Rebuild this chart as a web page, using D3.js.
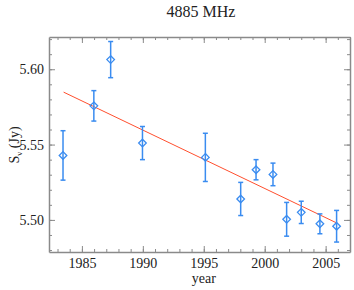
<!DOCTYPE html>
<html>
<head>
<meta charset="utf-8">
<script src="https://cdn.jsdelivr.net/npm/d3@7"></script>
<style>
  body { margin: 0; background: #fff; }
  svg text { font-family: "Liberation Serif", "DejaVu Serif", "Times New Roman", serif; fill: #222; }
</style>
</head>
<body>
<div id="stage"></div>
<script>
const years = [1983.45, 1985.98, 1987.36, 1989.97, 1995.13, 1998.03, 1999.29, 2000.68, 2001.80, 2003.00, 2004.53, 2005.90];
const flux = [5.5428, 5.5757, 5.6064, 5.5510, 5.5415, 5.5139, 5.5333, 5.5302, 5.5004, 5.5050, 5.4974, 5.4958];
const fluxErr = [0.0164, 0.0101, 0.0120, 0.0110, 0.0160, 0.0110, 0.0067, 0.0075, 0.0112, 0.0074, 0.0066, 0.0105];

// linear fit, end points
const fitYears = [1983.5, 2005.9];
const fitFlux = [5.5848, 5.4980];

const xTicks = [1985, 1990, 1995, 2000, 2005];
const yTicks = [5.50, 5.55, 5.60];

const width = 354;
const height = 290;
const margin = {top: 37, right: 4, bottom: 38, left: 49};
const blue = '#3a8cf0';
const axisColor = '#8a8a8a';
const serif = '"Liberation Serif", "DejaVu Serif", "Times New Roman", serif';

const svg = d3.select('#stage')
    .append('svg')
    .attr('width', width)
    .attr('height', height);

const x = d3.scaleLinear()
    .domain([1982.3, 2007.0])
    .range([margin.left, width - margin.right]);

const y = d3.scaleLinear()
    .domain([5.4787, 5.6214])
    .range([height - margin.bottom, margin.top]);

// minor ticks every year / every 0.01 Jy
const xMinor = d3.range(1983, 2007.01, 1);
const yMinor = d3.range(5.48, 5.621, 0.01);

function drawAxis(axis, pos) {
    const g = svg.append('g').attr('transform', pos);
    g.call(axis);
    g.attr('font-family', serif);
    g.select('.domain').attr('stroke', axisColor).attr('stroke-width', 1.5);
    g.selectAll('.tick line').attr('stroke', axisColor);
    g.selectAll('.tick text')
        .style('font-size', '14px')
        .style('font-family', serif)
        .attr('fill', '#222');
    return g;
}

function minorAxis(axis, pos) {
    const g = svg.append('g').attr('transform', pos);
    g.call(axis);
    g.select('.domain').remove();
    g.selectAll('.tick line').attr('stroke', axisColor);
}

// bottom
minorAxis(d3.axisBottom(x).tickValues(xMinor).tickSize(-3).tickFormat(''), `translate(0,${height - margin.bottom})`);
drawAxis(d3.axisBottom(x).tickValues(xTicks).tickSize(-6).tickPadding(6).tickFormat(d3.format('d')).tickSizeOuter(0),
    `translate(0,${height - margin.bottom})`);
// top
minorAxis(d3.axisTop(x).tickValues(xMinor).tickSize(-3).tickFormat(''), `translate(0,${margin.top})`);
drawAxis(d3.axisTop(x).tickValues(xTicks).tickSize(-6).tickFormat('').tickSizeOuter(0),
    `translate(0,${margin.top})`);
// left
minorAxis(d3.axisLeft(y).tickValues(yMinor).tickSize(-3).tickFormat(''), `translate(${margin.left},0)`);
drawAxis(d3.axisLeft(y).tickValues(yTicks).tickSize(-6).tickPadding(5).tickFormat(d3.format('.2f')).tickSizeOuter(0),
    `translate(${margin.left},0)`);
// right
minorAxis(d3.axisRight(y).tickValues(yMinor).tickSize(-3).tickFormat(''), `translate(${width - margin.right},0)`);
drawAxis(d3.axisRight(y).tickValues(yTicks).tickSize(-6).tickFormat('').tickSizeOuter(0),
    `translate(${width - margin.right},0)`);

const data = years.map((yr, i) => ({year: yr, s: flux[i], e: fluxErr[i]}));

// fit line
svg.append('line')
    .attr('x1', x(fitYears[0]))
    .attr('y1', y(fitFlux[0]))
    .attr('x2', x(fitYears[1]))
    .attr('y2', y(fitFlux[1]))
    .attr('stroke', '#ff4f2e')
    .attr('stroke-width', 1);

// error bars
const bars = svg.append('g')
    .attr('stroke', blue)
    .attr('stroke-width', 1.5)
    .selectAll('g')
    .data(data)
    .join('g');

bars.append('line')
    .attr('x1', d => x(d.year))
    .attr('x2', d => x(d.year))
    .attr('y1', d => y(d.s - d.e))
    .attr('y2', d => y(d.s + d.e));

bars.append('line')
    .attr('x1', d => x(d.year) - 2.5)
    .attr('x2', d => x(d.year) + 2.5)
    .attr('y1', d => y(d.s + d.e))
    .attr('y2', d => y(d.s + d.e));

bars.append('line')
    .attr('x1', d => x(d.year) - 2.5)
    .attr('x2', d => x(d.year) + 2.5)
    .attr('y1', d => y(d.s - d.e))
    .attr('y2', d => y(d.s - d.e));

// diamond markers
svg.append('g')
    .selectAll('path')
    .data(data)
    .join('path')
    .attr('transform', d => `translate(${x(d.year)},${y(d.s)})`)
    .attr('d', 'M0,-3.8L3.8,0L0,3.8L-3.8,0Z')
    .attr('fill', 'none')
    .attr('stroke', blue)
    .attr('stroke-width', 1.3);

// title and axis labels
svg.append('text')
    .attr('x', 201)
    .attr('y', 17)
    .attr('text-anchor', 'middle')
    .style('font-size', '16px')
    .text('4885 MHz');

svg.append('text')
    .attr('x', x(1995))
    .attr('y', 283)
    .attr('text-anchor', 'middle')
    .style('font-size', '14px')
    .text('year');

const ylab = svg.append('text')
    .attr('transform', `translate(19,${145}) rotate(-90)`)
    .attr('text-anchor', 'middle')
    .style('font-size', '14px');
ylab.append('tspan').text('S');
ylab.append('tspan').attr('dy', 3).style('font-size', '9px').text('ν');
ylab.append('tspan').attr('dy', -3).text(' (Jy)');
</script>
</body>
</html>
